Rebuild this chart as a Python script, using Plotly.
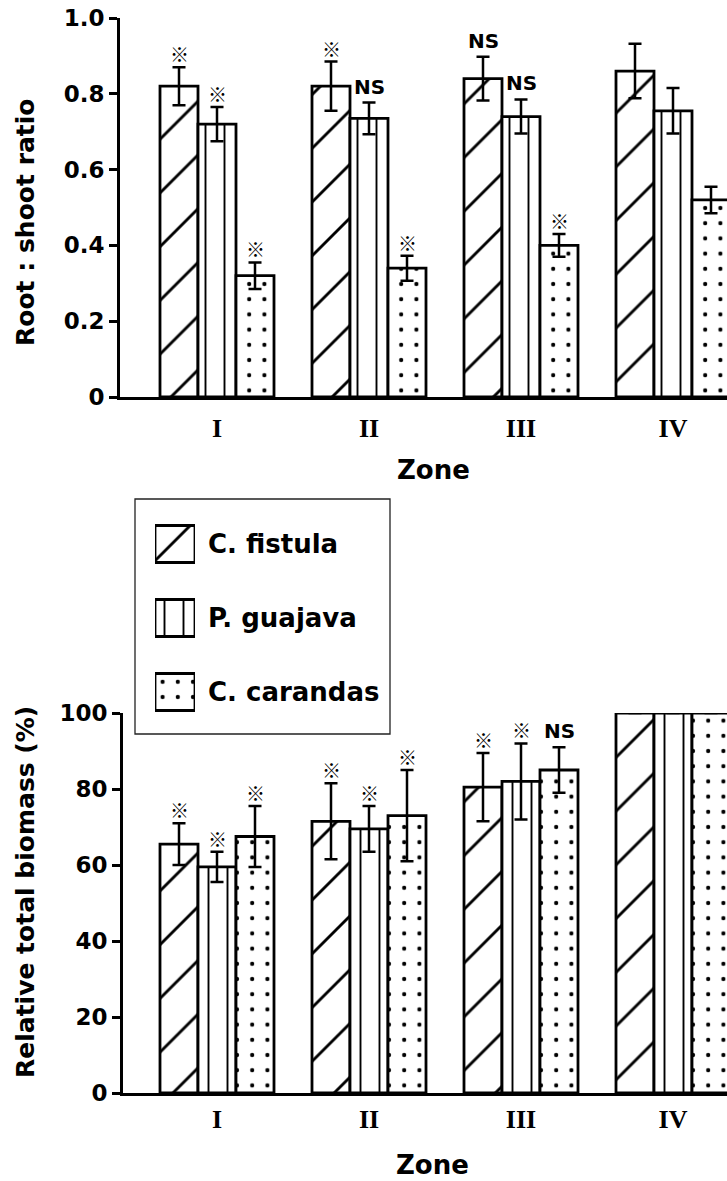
import plotly.graph_objects as go

# ---------------- data ----------------
zones = ["I", "II", "III", "IV"]
species = ["C. fistula", "P. guajava", "C. carandas"]

# Root : shoot ratio (top panel)
rs_fistula = [0.82, 0.82, 0.84, 0.86]
rs_fistula_err = [0.05, 0.065, 0.058, 0.072]
rs_guajava = [0.72, 0.735, 0.74, 0.755]
rs_guajava_err = [0.045, 0.042, 0.045, 0.06]
rs_carandas = [0.32, 0.34, 0.40, 0.52]
rs_carandas_err = [0.035, 0.033, 0.03, 0.035]
rs_sig_fistula = ["※", "※", "NS", ""]
rs_sig_guajava = ["※", "NS", "NS", ""]
rs_sig_carandas = ["※", "※", "※", ""]

# Relative total biomass (%) (bottom panel)
bm_fistula = [65.5, 71.5, 80.5, 100]
bm_fistula_err = [5.5, 10, 9, None]
bm_guajava = [59.5, 69.5, 82, 100]
bm_guajava_err = [4, 6, 10, None]
bm_carandas = [67.5, 73, 85, 100]
bm_carandas_err = [8, 12, 6, None]
bm_sig_fistula = ["※", "※", "※", ""]
bm_sig_guajava = ["※", "※", "※", ""]
bm_sig_carandas = ["※", "※", "NS", ""]

rs_ticks = [0, 0.2, 0.4, 0.6, 0.8, 1.0]
rs_ticktext = ["0", "0.2", "0.4", "0.6", "0.8", "1.0"]
bm_ticks = [0, 20, 40, 60, 80, 100]
bm_ticktext = ["0", "20", "40", "60", "80", "100"]

# ---------------- style ----------------
W, H = 727, 1181
BARGAP = 0.25
patterns = [
    dict(shape="/", size=38, solidity=0.075),
    dict(shape="|", size=19, solidity=0.1),
    dict(shape=".", size=15.2, solidity=0.06),
]
SANS = "DejaVu Sans"
SERIF = "Liberation Serif"
CJK = "Noto Sans CJK JP"


def fx(p):
    return p / W


def fy(p):
    return 1 - p / H


def font(size, family=SANS, weight="bold"):
    return dict(family=family, size=size, color="black", weight=weight)


fig = go.Figure()
xpos = list(range(len(zones)))

panels = [
    ("x", "y", [rs_fistula, rs_guajava, rs_carandas],
     [rs_fistula_err, rs_guajava_err, rs_carandas_err],
     [rs_sig_fistula, rs_sig_guajava, rs_sig_carandas]),
    ("x2", "y2", [bm_fistula, bm_guajava, bm_carandas],
     [bm_fistula_err, bm_guajava_err, bm_carandas_err],
     [bm_sig_fistula, bm_sig_guajava, bm_sig_carandas]),
]

annotations = []
bw = (1 - BARGAP) / 3
for xa, ya, vals_list, errs_list, sig_list in panels:
    for k, (name, vals, errs) in enumerate(zip(species, vals_list, errs_list)):
        fig.add_trace(go.Bar(
            x=xpos, y=vals, name=name, showlegend=False,
            xaxis=xa, yaxis=ya,
            marker=dict(color="white",
                        line=dict(color="black", width=2.8),
                        pattern=dict(fgcolor="black", bgcolor="white",
                                     fgopacity=1, fillmode="replace", **patterns[k])),
            error_y=dict(type="data", array=errs, visible=True, color="black",
                         thickness=2.5, width=6.5),
        ))
        for i, s in enumerate(sig_list[k]):
            if not s:
                continue
            top = vals[i] + (errs[i] or 0)
            is_ns = s == "NS"
            annotations.append(dict(
                x=xpos[i] + (k - 1) * bw, y=top, xref=xa, yref=ya,
                text=s, showarrow=False, yanchor="bottom", xanchor="center",
                yshift=2 if is_ns else -2,
                font=font(20) if is_ns else font(19, CJK),
            ))

# legend swatches (helper axes)
fig.add_trace(go.Bar(
    x=[1, 1, 1], y=species, orientation="h", width=0.5, showlegend=False,
    xaxis="x3", yaxis="y3", hoverinfo="skip",
    marker=dict(color="white", line=dict(color="black", width=2.8),
                pattern=dict(fgcolor="black", bgcolor="white", fgopacity=1,
                             fillmode="replace",
                             shape=[p["shape"] for p in patterns],
                             size=[p["size"] for p in patterns],
                             solidity=[p["solidity"] for p in patterns])),
))

# axis titles / labels
annotations += [
    dict(text="Root : shoot ratio", x=fx(25), y=fy(222), xref="paper", yref="paper",
         xanchor="center", yanchor="middle",
         textangle=-90, showarrow=False, font=font(25)),
    dict(text="Relative total biomass (%)", x=fx(25), y=fy(892), xref="paper", yref="paper",
         xanchor="center", yanchor="middle",
         textangle=-90, showarrow=False, font=font(25)),
    dict(text="Zone", x=fx(433), y=fy(470), xref="paper", yref="paper",
         xanchor="center", yanchor="middle", showarrow=False, font=font(26)),
    dict(text="Zone", x=fx(432), y=fy(1165), xref="paper", yref="paper",
         xanchor="center", yanchor="middle", showarrow=False, font=font(26)),
]

common_x = dict(showline=True, linewidth=3, linecolor="black", ticks="",
                showgrid=False, zeroline=False, tickvals=xpos, ticktext=zones,
                tickfont=font(26, SERIF), automargin=False, fixedrange=True)
common_y = dict(showline=True, linewidth=3, linecolor="black", ticks="outside",
                ticklen=8, tickwidth=2.5, tickcolor="black", showgrid=False,
                zeroline=False, tickfont=font(23), ticklabelstandoff=0,
                automargin=False, fixedrange=True)

fig.update_layout(
    width=W, height=H, margin=dict(l=0, r=0, t=0, b=0),
    paper_bgcolor="white", plot_bgcolor="white",
    barmode="group", bargap=BARGAP, bargroupgap=0,
    showlegend=False,
    xaxis=dict(domain=[fx(120), 1], range=[-(217 - 120) / 152, (727 - 217) / 152],
               anchor="y", ticklabelstandoff=6, **common_x),
    yaxis=dict(domain=[fy(397), fy(18)], range=[0, 1.0], tickvals=rs_ticks,
               ticktext=rs_ticktext, anchor="x", **common_y),
    xaxis2=dict(domain=[fx(123), 1], range=[-(217 - 123) / 152, (727 - 217) / 152],
                anchor="y2", ticklabelstandoff=1, **common_x),
    yaxis2=dict(domain=[fy(1093), fy(713)], range=[0, 100], tickvals=bm_ticks,
                ticktext=bm_ticktext, anchor="x2", **common_y),
    xaxis3=dict(domain=[fx(155), fx(195)], range=[0, 1], visible=False,
                anchor="y3", fixedrange=True),
    yaxis3=dict(domain=[fy(729), fy(507)], anchor="x3", side="right",
                categoryorder="array", categoryarray=species[::-1],
                ticks="", showline=False, showgrid=False, zeroline=False,
                ticklabelstandoff=12, automargin=False, fixedrange=True,
                tickfont=font(26)),
    shapes=[dict(type="rect", xref="paper", yref="paper",
                 x0=fx(135), x1=fx(390), y0=fy(734), y1=fy(499),
                 line=dict(color="#222", width=1.3), fillcolor="rgba(0,0,0,0)")],
    annotations=annotations,
)

fig.write_html("out.html")
